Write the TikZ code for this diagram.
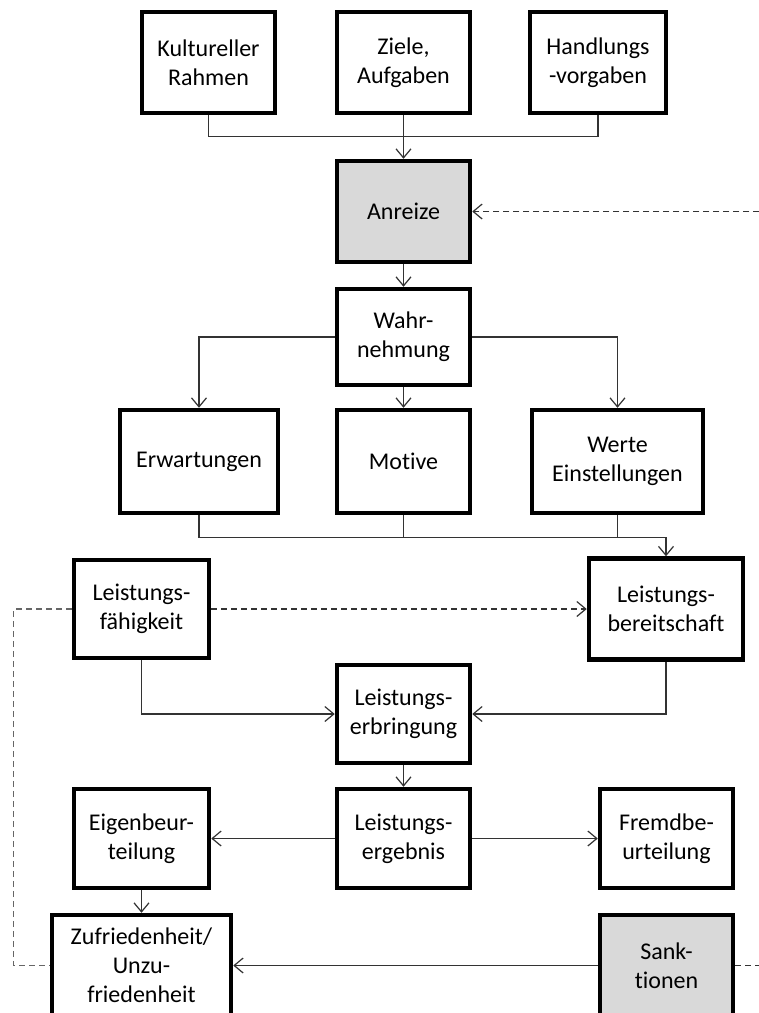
\documentclass[tikz,border=0pt]{standalone}
\usepackage{fontspec}
\setmainfont{Carlito}[Ligatures=NoCommon]
\usetikzlibrary{arrows.meta}

\begin{document}
\begin{tikzpicture}[x=1pt,y=1pt,node distance=125pt,
  box/.style={rectangle,draw,line width=4.5pt,minimum width=133pt,minimum height=101pt,
    align=center,inner sep=2pt,font=\fontsize{24}{29}\selectfont},
  grey/.style={fill=black!15},
  link/.style={draw=black!80,line width=1.2pt},
  back/.style={link,dash pattern=on 6pt off 4pt},
  >={Straight Barb[length=9pt,width=15pt]}]
\useasboundingbox (0,0) rectangle (759,-1013);
\clip (0,0) rectangle (759,-1013);

\node[box] (ziele) at (403.5,-62.5) {Ziele,\\Aufgaben};
\node[box,left of=ziele,node distance=195pt] (kult) {Kultureller\\Rahmen};
\node[box,right of=ziele,node distance=194.5pt,minimum width=136pt] (handl) {Handlungs\\-vorgaben};
\node[box,grey,below of=ziele,node distance=149pt] (anreize) {Anreize};
\node[box,below of=anreize,node distance=125.5pt,minimum height=96pt] (wahrn) {Wahr-\\nehmung};
\node[box,below of=wahrn,node distance=124.5pt,minimum height=103pt] (motive) {Motive};
\node[box,left of=motive,node distance=204.5pt,minimum width=158pt,minimum height=103pt] (erw) {Erwartungen};
\node[box,right of=motive,node distance=214pt,minimum width=171pt,minimum height=103pt] (werte) {Werte\\Einstellungen};
\node[box,minimum width=135pt,minimum height=98pt] (lfaeh) at (141.5,-609) {Leistungs-\\fähigkeit};
\node[box,right of=lfaeh,node distance=524.5pt,minimum width=154pt] (lbereit) {Leistungs-\\bereitschaft};
\node[box,below of=motive,node distance=252.5pt,minimum height=98pt] (lerbr) {Leistungs-\\erbringung};
\node[box,below of=lerbr,node distance=124.5pt,minimum height=99pt] (lergeb) {Leistungs-\\ergebnis};
\node[box,below of=lfaeh,node distance=229.5pt,minimum width=135pt,minimum height=99pt] (eigen) {Eigenbeur-\\teilung};
\node[box,right of=lergeb,node distance=263pt,minimum height=99pt] (fremd) {Fremdbe-\\urteilung};
\node[box,below of=eigen,node distance=127pt,minimum width=179pt] (zufr) {Zufriedenheit/\\Unzu-\\friedenheit};
\node[box,grey,below of=fremd,node distance=127pt] (sankt) {Sank-\\tionen};

\draw[link] (kult.south) -- ++(0,-21) -| (handl.south);
\draw[link,->] (ziele.south) -- (anreize.north);
\draw[back,->] (sankt.east) -- ++(40,0) |- (anreize.east);
\draw[link,->] (anreize.south) -- (wahrn.north);
\draw[link,->] (wahrn.west) -| (erw.north);
\draw[link,->] (wahrn.south) -- (motive.north);
\draw[link,->] (wahrn.east) -| (werte.north);
\draw[link,->] (erw.south) -- ++(0,-22) -| (lbereit.north);
\draw[link] (motive.south) -- ++(0,-22);
\draw[link] (werte.south) -- ++(0,-22);
\draw[back,->] (lfaeh.east) -- (lbereit.west);
\draw[back,draw=black!60] (lfaeh.west) -- ++(-58,0) |- (zufr.west);
\draw[link,->] (lfaeh.south) |- (lerbr.west);
\draw[link,->] (lbereit.south) |- (lerbr.east);
\draw[link,->] (lerbr.south) -- (lergeb.north);
\draw[link,->] (lergeb.west) -- (eigen.east);
\draw[link,->] (lergeb.east) -- (fremd.west);
\draw[link,->] (eigen.south) -- (zufr.north);
\draw[link,->] (sankt.west) -- (zufr.east);

\end{tikzpicture}
\end{document}
